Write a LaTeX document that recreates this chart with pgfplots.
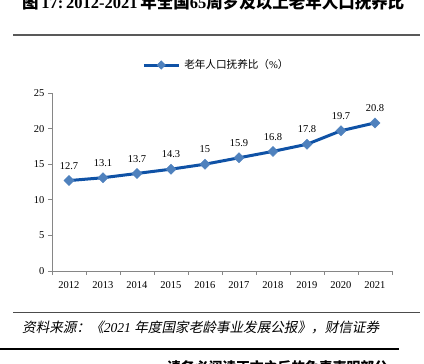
\documentclass[border=0pt]{standalone}
\usepackage{pgfplots}
\pgfplotsset{compat=1.18}
\usepackage{fontspec}
\setmainfont{Liberation Serif}
\newfontfamily\cjk{Noto Sans CJK SC}
\newfontfamily\cjkit[FakeSlant=0.2]{Noto Sans CJK SC}
\definecolor{lineblue}{RGB}{15,82,166}
\definecolor{markblue}{RGB}{79,129,189}
\definecolor{axgray}{RGB}{134,134,134}
\begin{document}
\begin{tikzpicture}[x=1pt,y=1pt]
\useasboundingbox (0,0) rectangle (424,364);
% title (cut at top)
\node[anchor=base west, inner sep=0] at (22,355) {\fontsize{16.5}{18}\selectfont\bfseries{\cjk 图}\,17:\,2012-2021\,{\cjk 年全国}65{\cjk 周岁及以上老年人口抚养比}};
\draw[line width=2pt, color=black!65] (13,329) -- (420,329);
\begin{axis}[
  at={(52pt,93pt)}, anchor=south west,
  scale only axis, width=340pt, height=178pt,
  xmin=-0.5, xmax=9.5, ymin=0, ymax=25,
  axis lines=left, axis line style={-, color=axgray, line width=0.6pt},
  xtick={0,...,9},
  xticklabels={2012,2013,2014,2015,2016,2017,2018,2019,2020,2021},
  minor xtick={-0.5,0.5,...,9.5},
  ytick={0,5,10,15,20,25},
  major x tick style={draw=none},
  minor tick length=4pt, major tick length=4pt,
  tick align=outside,
  every tick/.style={color=axgray, line width=0.6pt},
  minor tick style={color=axgray, line width=0.6pt},
  /pgf/number format/assume math mode=true,
  tick label style={font=\fontsize{10.5}{12}\selectfont},
  xticklabel style={yshift=-3pt},
  nodes near coords,
  every node near coord/.append style={font=\fontsize{10.5}{12}\selectfont, inner sep=0pt, yshift=11pt, color=black},
  legend style={at={(0.265,1.157)}, anchor=west, draw=none, fill=none, inner sep=0pt,
    font=\fontsize{10.6}{12}\selectfont},
  legend image code/.code={
    \draw[line width=3pt, color=lineblue] (0pt,0pt) -- (35pt,0pt);
    \fill[markblue] (17.5pt,0pt) +(0,2.5pt) -- +(2.5pt,0) -- +(0,-2.5pt) -- +(-2.5pt,0) -- cycle;
  },
]
\addplot[color=lineblue, line width=3pt, mark=square*, mark size=3.6pt,
  mark options={rotate=45, fill=markblue, draw=markblue, line width=0.4pt}]
  coordinates {(0,12.7) (1,13.1) (2,13.7) (3,14.3) (4,15) (5,15.9) (6,16.8) (7,17.8) (8,19.7) (9,20.8)};
\addlegendentry{\hspace{2pt}{\cjk 老年人口抚养比（}\%{\cjk ）}}
\end{axis}
\draw[line width=0.8pt, color=black!70] (13,52) -- (420,52);
\node[anchor=west, inner sep=0] at (22,37) {\fontsize{13.6}{15}\selectfont{\cjkit 资料来源：《}\textit{2021} {\cjkit 年度国家老龄事业发展公报》，财信证券}};
\draw[line width=1.2pt, color=black] (0,15) -- (399,15);
\node[anchor=north west, inner sep=0] at (167,3.5) {\fontsize{13.8}{15}\selectfont\bfseries\cjk 请务必阅读正文之后的免责声明部分};
\end{tikzpicture}
\end{document}
